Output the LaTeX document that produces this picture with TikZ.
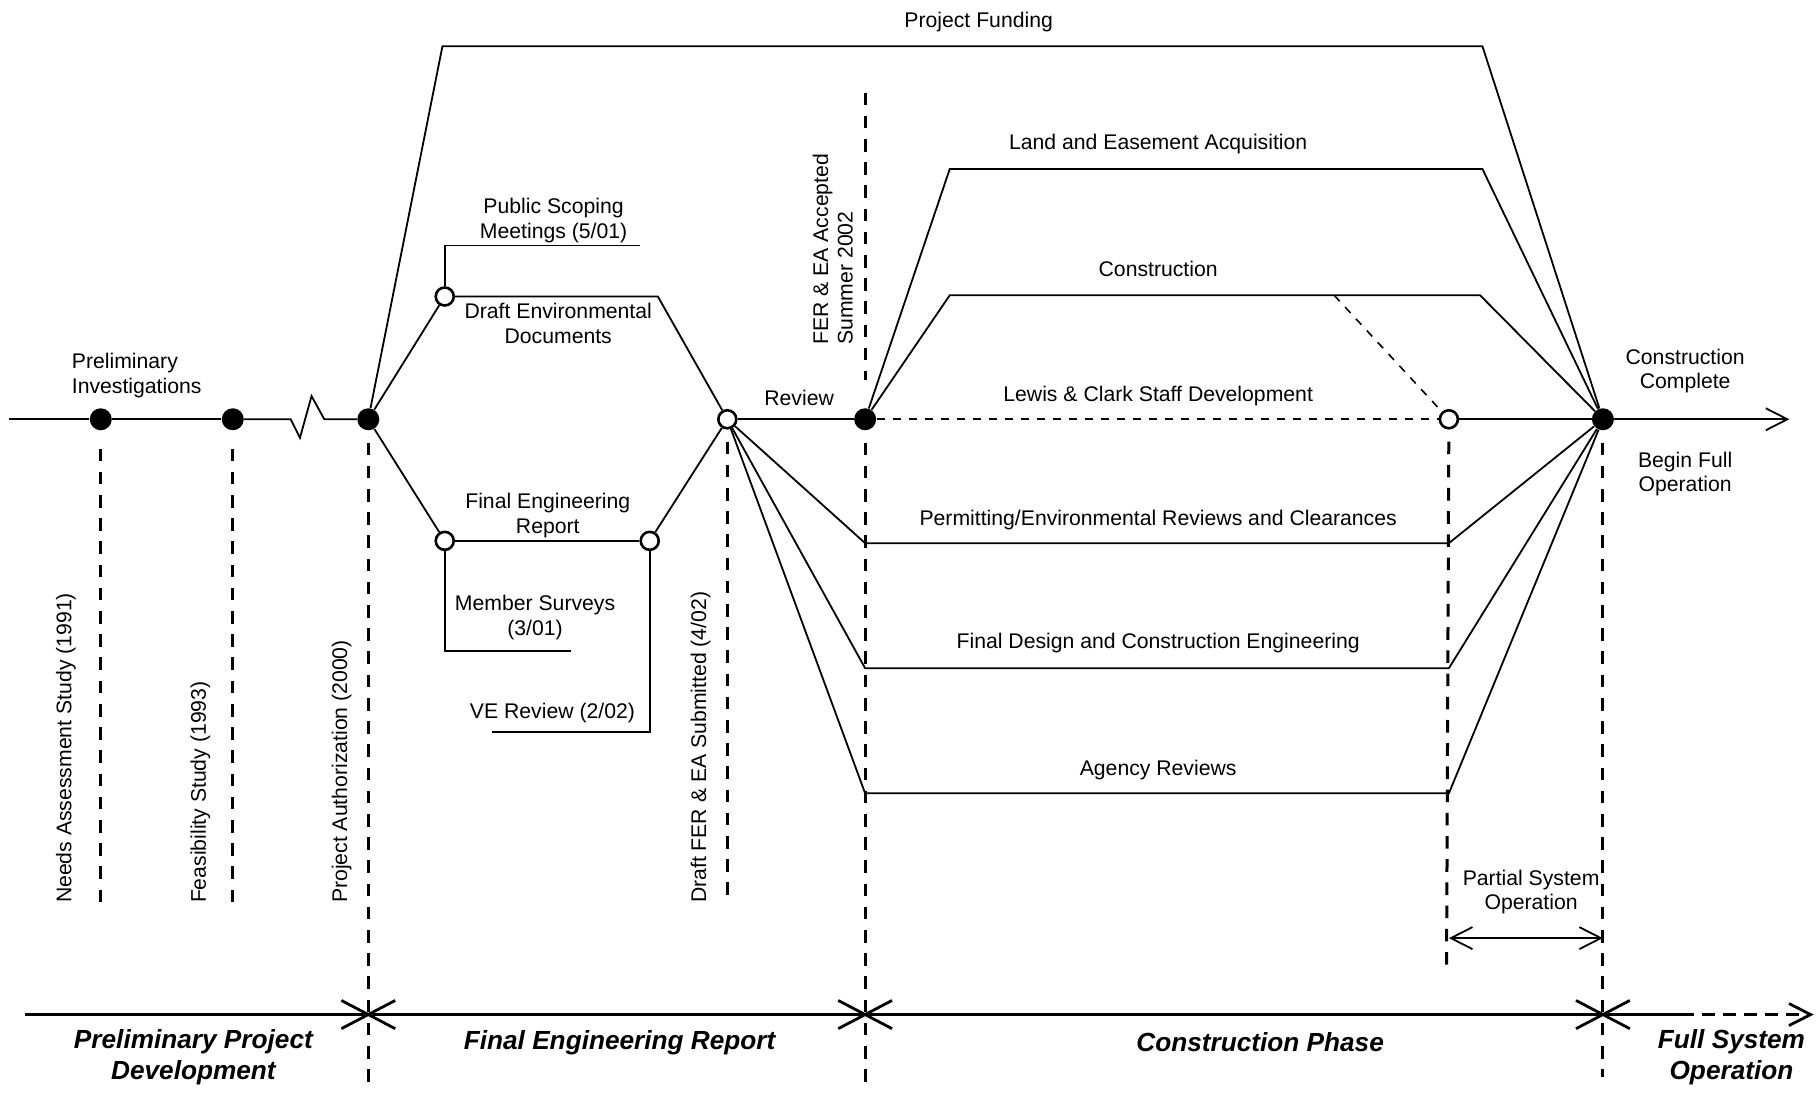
\documentclass[tikz,border=0pt]{standalone}
\usepackage{fontspec}
\setmainfont{Liberation Sans}
\usetikzlibrary{arrows.meta,positioning,calc,shapes.misc}

\begin{document}
\begin{tikzpicture}[
  x=0.579pt,y=-0.579pt,
  font=\fontsize{10.6}{12.2}\selectfont,
  lbl/.style={align=center,inner sep=1pt,yshift=-1.3pt},
  phase/.style={align=center,inner sep=1pt,font=\fontsize{13.1}{15.2}\selectfont\bfseries\itshape},
  vlbl/.style={rotate=90,anchor=west,inner sep=0pt,align=left},
  done/.style={circle,fill=black,minimum size=11pt,inner sep=0pt},
  open/.style={circle,draw,fill=white,line width=1.3pt,minimum size=9pt,inner sep=0pt},
  gate/.style={cross out,draw,line width=1.4pt,minimum width=25.5pt,minimum height=12.7pt,inner sep=0pt},
  link/.style={line width=0.9pt,line join=miter},
  soft/.style={link,line width=0.8pt,dash pattern=on 4pt off 4pt},
  guide/.style={line width=1.5pt,dash pattern=on 6.3pt off 5.3pt},
  arr/.style={-{Straight Barb[length=10.8pt,width=11pt]}}
]
\path[fill=white,use as bounding box] (0,0) rectangle (1568,946);

% milestones
\node[done] (needs) at (87,362) {};
\node[done] (feas) at (201,362) {};
\node[done] (auth) at (318,362) {};
\node[open] (draftenv) at (384,256) {};
\node[open] (fer) at (384,467) {};
\node[open] (ferend) at (561,467) {};
\node[open] (draftfer) at (628,362) {};
\node[done] (accepted) at (747,362) {};
\node[open] (partial) at (1251,362) {};
\node[done] (complete) at (1384,362) {};

% bends
\coordinate (start) at (8,362);
\coordinate (arrowend) at (1545,362);
\coordinate (zigA) at (251,362);
\coordinate (zigB) at (259,378);
\coordinate (zigC) at (269,342);
\coordinate (zigD) at (280,362);
\coordinate (fundA) at (382,40);
\coordinate (fundB) at (1280,40);
\coordinate (scopA) at (384,212);
\coordinate (scopB) at (553,212);
\coordinate (envB) at (568,256);
\coordinate (survA) at (384,562);
\coordinate (survB) at (493,562);
\coordinate (veA) at (561,632);
\coordinate (veB) at (425,632);
\coordinate (landA) at (820,146);
\coordinate (landB) at (1280,146);
\coordinate (consA) at (820,255);
\coordinate (consB) at (1278,255);
\coordinate (consC) at (1152,255);
\coordinate (permA) at (747,469);
\coordinate (permB) at (1251,469);
\coordinate (desA) at (747,577);
\coordinate (desB) at (1251,577);
\coordinate (agA) at (747,685);
\coordinate (agB) at (1251,685);

\draw[link] (start) -- (needs);
\draw[link] (needs) -- (feas);
\draw[link] (feas) -- (zigA) -- (zigB) -- (zigC) -- (zigD) -- (auth);
\draw[link] (auth) -- (fundA) -- (fundB) -- (complete);
\draw[link] (auth) -- (draftenv);
\draw[link] (auth) -- (fer);
\draw[link] (draftenv) -- (scopA) -- (scopB);
\draw[link] (draftenv) -- (envB) -- (draftfer);
\draw[link] (fer) -- (ferend);
\draw[link] (ferend) -- (draftfer);
\draw[link] (fer) -- (survA) -- (survB);
\draw[link] (ferend) -- (veA) -- (veB);
\draw[link] (draftfer) -- (accepted);
\draw[link] (draftfer) -- (permA) -- (permB) -- (complete);
\draw[link] (draftfer) -- (desA) -- (desB) -- (complete);
\draw[link] (draftfer) -- (agA) -- (agB) -- (complete);
\draw[link] (accepted) -- (landA) -- (landB) -- (complete);
\draw[link] (accepted) -- (consA) -- (consB) -- (complete);
\draw[soft] (consC) -- (partial);
\draw[soft] (accepted) -- (partial);
\draw[link] (partial) -- (complete);
\draw[link,arr] (complete) -- (arrowend);

% dashed guides
\coordinate (needsend) at (87,785);
\coordinate (feasend) at (201,780);
\coordinate (authend) at (318,940);
\coordinate (draftferend) at (628,780);
\coordinate (acctop) at (747,80);
\coordinate (accmid) at (747,328);
\coordinate (accend) at (747,940);
\coordinate (partialend) at (1249,838);
\coordinate (completeend) at (1384,930);
\draw[guide,shorten <=9pt] (needs) -- (needsend);
\draw[guide,shorten <=9pt] (feas) -- (feasend);
\draw[guide,shorten <=6pt] (auth) -- (authend);
\draw[guide,shorten <=6pt] (draftfer) -- (draftferend);
\draw[guide] (acctop) -- (accmid);
\draw[guide,shorten <=6pt] (accepted) -- (accend);
\draw[guide,shorten <=6pt] (partial) -- (partialend);
\draw[guide,shorten <=6pt] (complete) -- (completeend);

% partial operation span
\coordinate (psL) at (1251,810);
\coordinate (psR) at (1384,810);
\draw[link,{Straight Barb[length=10.8pt,width=11pt]}-{Straight Barb[length=10.8pt,width=11pt]}] (psL) -- (psR);

% phase axis
\coordinate (axstart) at (22,876);
\coordinate (axmid) at (1451,876);
\coordinate (axend) at (1566,876);
\draw[line width=1.4pt] (axstart) -- (axmid);
\draw[line width=1.4pt,dash pattern=on 6.5pt off 4pt,arr] (axmid) -- (axend);
\node[gate] (gateA) at (318,876) {};
\node[gate] (gateB) at (747,876) {};
\node[gate] (gateC) at (1384,876) {};

% labels
\node[lbl] (fundlbl) at (845,17) {Project Funding};
\node[lbl] (scoplbl) at (478,188) {Public Scoping\\Meetings (5/01)};
\node[lbl] (envlbl) at (482,277) {Draft Environmental\\Documents};
\node[lbl] (ferlbl) at (473,443) {Final Engineering\\Report};
\node[lbl] (survlbl) at (462,531) {Member Surveys\\(3/01)};
\node[lbl] (velbl) at (477,613) {VE Review (2/02)};
\node[lbl] (revlbl) at (690,341) {Review};
\node[lbl] (landlbl) at (1000,122) {Land and Easement Acquisition};
\node[lbl] (conslbl) at (1000,230) {Construction};
\node[lbl] (staflbl) at (1000,340) {Lewis \& Clark Staff Development};
\node[lbl] (permlbl) at (1000,447) {Permitting/Environmental Reviews and Clearances};
\node[lbl] (deslbl) at (1000,553) {Final Design and Construction Engineering};
\node[lbl] (aglbl) at (1000,663) {Agency Reviews};
\node[lbl,align=left,anchor=west] (prelbl) at (60,322) {Preliminary\\Investigations};
\node[lbl] (complbl) at (1455,318) {Construction\\Complete};
\node[lbl] (beginlbl) at (1455,407) {Begin Full\\Operation};
\node[lbl] (pslbl) at (1322,768) {Partial System\\Operation};

\node[vlbl] (needslbl) at (57,780) {Needs Assessment Study (1991)};
\node[vlbl] (feaslbl) at (173,780) {Feasibility Study (1993)};
\node[vlbl] (authlbl) at (295,780) {Project Authorization (2000)};
\node[vlbl] (draftferlbl) at (605,780) {Draft FER \& EA Submitted (4/02)};
\node[vlbl] (acclbl) at (719,298) {FER \& EA Accepted\\Summer 2002};

\node[phase] (ph1) at (167,913) {Preliminary Project\\Development};
\node[phase] (ph2) at (535,900) {Final Engineering Report};
\node[phase] (ph3) at (1088,900) {Construction Phase};
\node[phase] (ph4) at (1495,913) {Full System\\Operation};
\end{tikzpicture}
\end{document}
